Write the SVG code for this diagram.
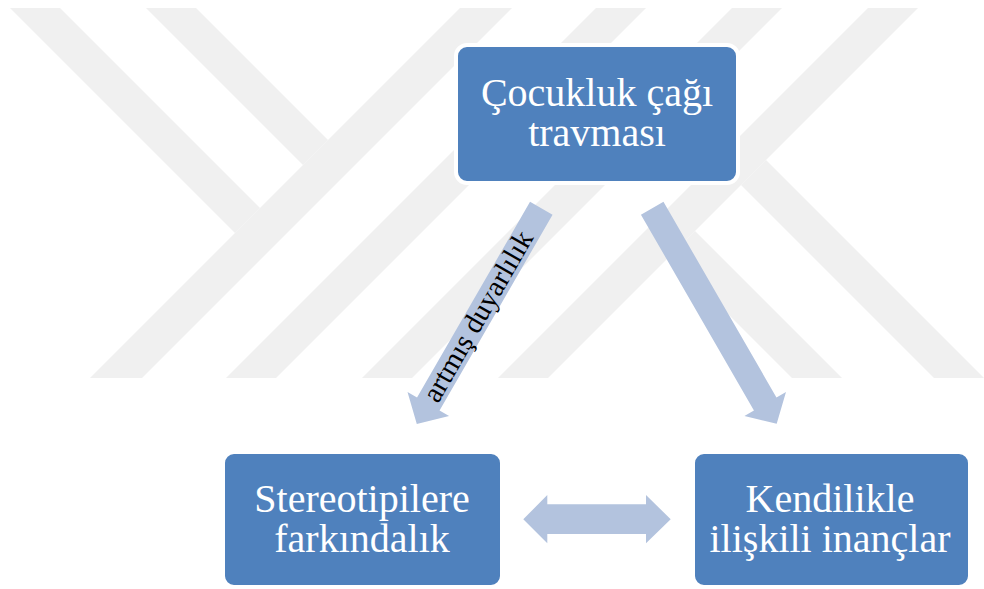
<svg xmlns="http://www.w3.org/2000/svg" width="984" height="589" viewBox="0 0 984 589">
  <style>
    .wm { fill: #f0f0f0; }
    .box { fill: #4f81bd; stroke: #ffffff; stroke-width: 4; }
    .lbl { font-family: "Liberation Serif", "Times New Roman", serif; font-size: 40px; fill: #ffffff; text-anchor: middle; }
    .arrow { fill: #b3c3de; }
    .elbl { font-family: "Liberation Serif", "Times New Roman", serif; font-size: 29px; fill: #000000; text-anchor: middle; }
  </style>
  <defs>
    <polygon id="diagArrow" points="0,-13 226,-13 226,-24 249,0 226,24 226,13 0,13"/>
  </defs>
  <rect x="0" y="0" width="984" height="589" fill="#ffffff"/>
  <g id="watermark">
    <polygon class="wm" points="460,8 512,8 142,378 90,378"/>
    <polygon class="wm" points="596,8 646,8 276,378 226,378"/>
    <polygon class="wm" points="732,8 782,8 412,378 362,378"/>
    <polygon class="wm" points="868,8 918,8 548,378 498,378"/>
    <polygon class="wm" points="10,8 60,8 260,208 235,233"/>
    <polygon class="wm" points="146,8 196,8 328,140 303,165"/>
    <polygon class="wm" points="695,231 842,378 792,378 670,256"/>
    <polygon class="wm" points="766,160 984,378 934,378 741,185"/>
  </g>
  <g id="connectors">
    <use href="#diagArrow" class="arrow" transform="translate(541.3,208.3) rotate(120)"/>
    <use href="#diagArrow" class="arrow" transform="translate(652.2,208.2) rotate(60)"/>
    <polygon class="arrow" points="523.3,519.3 547.3,495 547.3,504.3 646,504.3 646,495 670.7,519.3 646,543.3 646,534 547.3,534 547.3,543.3"/>
    <text class="elbl" transform="translate(486,321) rotate(-60)">artmış duyarlılık</text>
  </g>
  <g id="node-top">
    <rect class="box" x="456" y="45" width="282" height="138" rx="11"/>
    <text class="lbl" x="597" y="106">Çocukluk çağı</text>
    <text class="lbl" x="597" y="146">travması</text>
  </g>
  <g id="node-left">
    <rect class="box" x="223" y="452" width="279" height="135" rx="11"/>
    <text class="lbl" x="362" y="512">Stereotipilere</text>
    <text class="lbl" x="362" y="552">farkındalık</text>
  </g>
  <g id="node-right">
    <rect class="box" x="693" y="452" width="277" height="135" rx="11"/>
    <text class="lbl" x="830" y="512">Kendilikle</text>
    <text class="lbl" x="830" y="552">ilişkili inançlar</text>
  </g>
</svg>
